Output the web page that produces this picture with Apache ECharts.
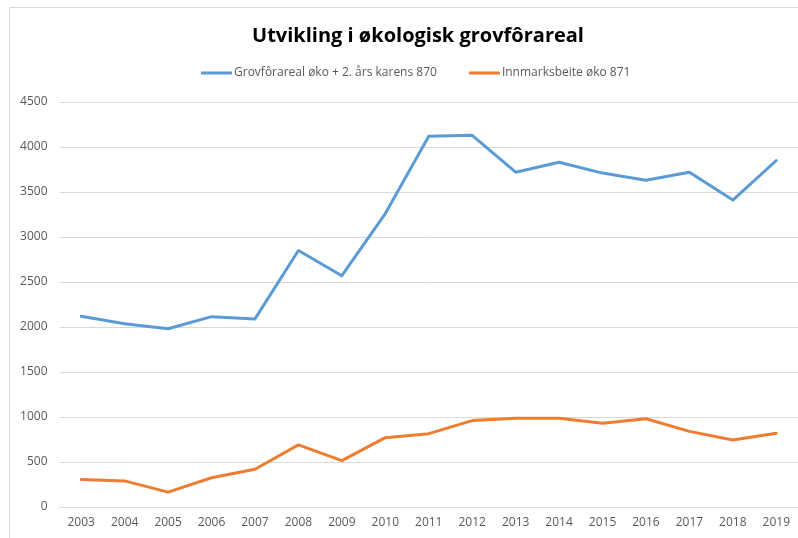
<!DOCTYPE html>
<html><head><meta charset="utf-8">
<script src="https://cdn.jsdelivr.net/npm/echarts@6/dist/echarts.min.js"></script>
<style>html,body{margin:0;padding:0;background:#fff}#c{width:798px;height:538px}</style>
</head><body><div id="c"></div>
<script>
const years = ['2003','2004','2005','2006','2007','2008','2009','2010','2011','2012','2013','2014','2015','2016','2017','2018','2019'];
const grovfor = [2120,2035,1980,2115,2090,2850,2570,3260,4120,4130,3720,3830,3710,3630,3720,3410,3850];
const innmark = [305,290,165,325,420,690,515,770,815,960,985,985,930,980,840,745,820];
const seriesNames = ['Grovfôrareal øko + 2. års karens 870','Innmarksbeite øko 871'];
const yTicks = {min:0, max:4500, interval:500};

const font = '"Open Sans",sans-serif';
const chart = echarts.init(document.getElementById('c'));
chart.setOption({
  animation:false,
  textStyle:{fontFamily:font},
  graphic:[{type:'rect',shape:{x:9.5,y:7.5,width:820,height:560},style:{fill:'none',stroke:'#d9d9d9',lineWidth:1},silent:true}],
  title:{text:'Utvikling i økologisk grovfôrareal',left:413,textAlign:'center',top:21,
    textStyle:{fontFamily:'Open Sans, sans-serif',fontWeight:'bold',fontSize:20,color:'#000'}},
  legend:{top:67,left:201,padding:0,itemWidth:31,itemHeight:3,itemGap:32,icon:'rect',
    textStyle:{fontFamily:font,fontSize:12,color:'#595959',padding:[0,0,0,-3]},data:seriesNames},
  grid:{left:59.5,width:740,top:102,height:405,containLabel:false},
  xAxis:{type:'category',data:years,boundaryGap:true,
    axisLine:{lineStyle:{color:'#d9d9d9',width:1}},axisTick:{show:false},
    axisLabel:{color:'#595959',fontSize:12,margin:10,fontFamily:font}},
  yAxis:{type:'value',min:yTicks.min,max:yTicks.max,interval:yTicks.interval,
    axisLine:{show:false},axisTick:{show:false},
    splitLine:{lineStyle:{color:'#d9d9d9',width:1}},
    axisLabel:{color:'#595959',fontSize:12,margin:12,fontFamily:font,formatter:v=>String(v)}},
  series:[
    {name:seriesNames[0],type:'line',data:grovfor,showSymbol:false,symbol:'none',
      lineStyle:{color:'#5b9bd5',width:3,join:'round',cap:'round'},itemStyle:{color:'#5b9bd5'}},
    {name:seriesNames[1],type:'line',data:innmark,showSymbol:false,symbol:'none',
      lineStyle:{color:'#ed7d31',width:3,join:'round',cap:'round'},itemStyle:{color:'#ed7d31'}}
  ]
});
</script></body></html>
